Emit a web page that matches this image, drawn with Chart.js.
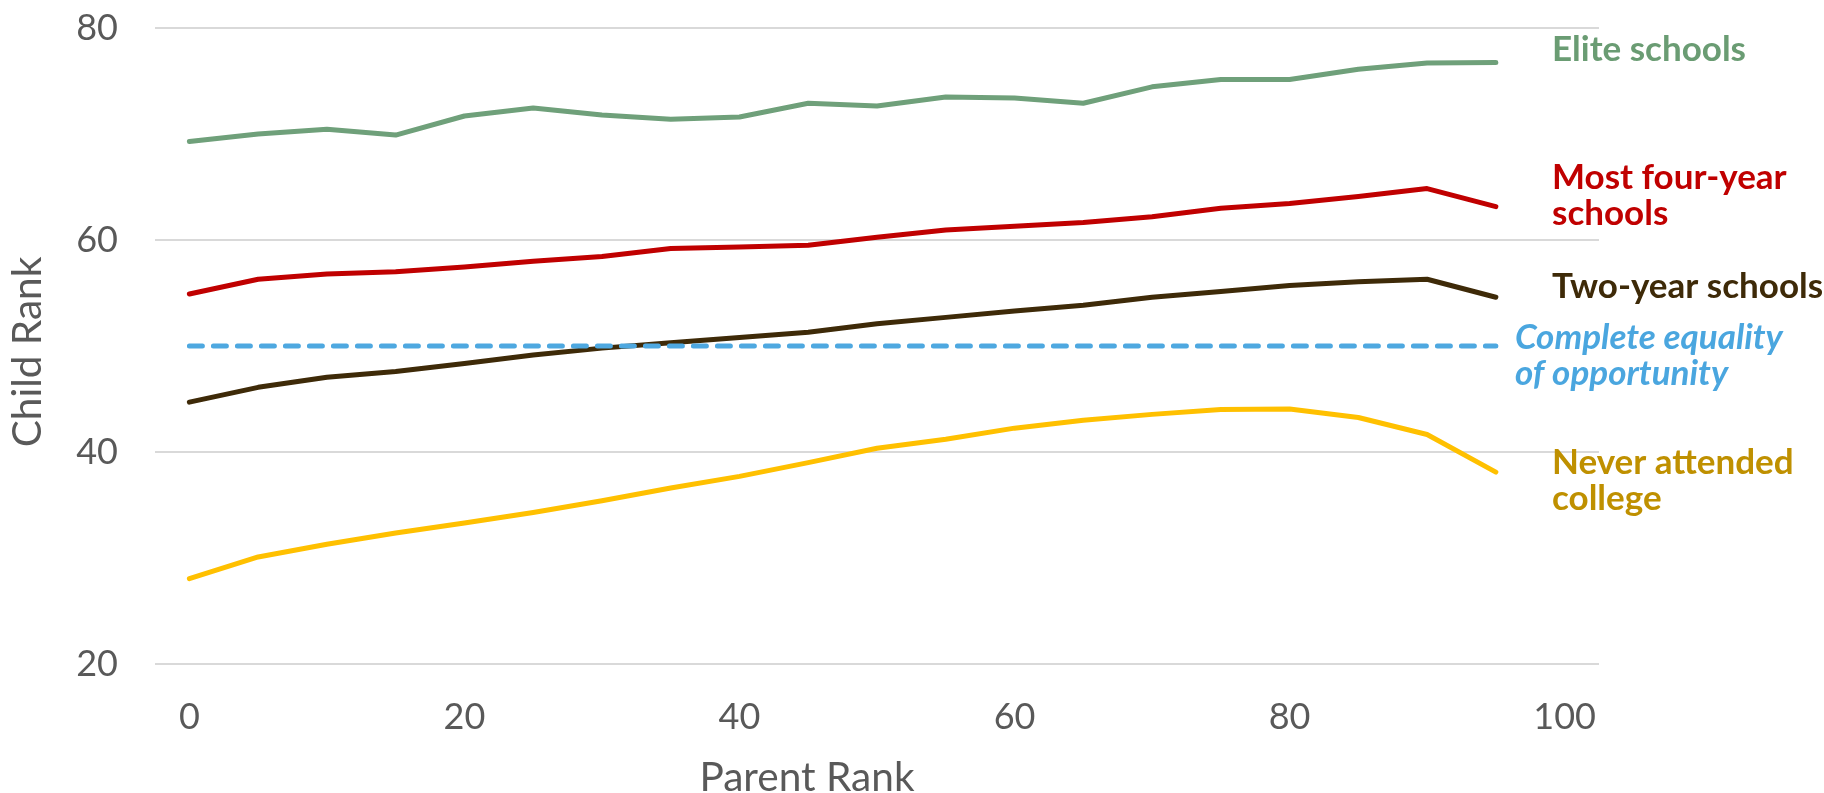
<!DOCTYPE html>
<html>
<head>
<meta charset="utf-8">
<script src="https://cdn.jsdelivr.net/npm/chart.js@4/dist/chart.umd.min.js"></script>
<style>
  html, body { margin: 0; padding: 0; background: #ffffff; }
  #wrap { position: relative; width: 1824px; height: 793px; }
</style>
</head>
<body>
<div id="wrap"><canvas id="chart"></canvas></div>
<script>
// Parent income rank (percentile bins) on the x axis
const parentRank = [0, 5, 10, 15, 20, 25, 30, 35, 40, 45, 50, 55, 60, 65, 70, 75, 80, 85, 90, 95, 100];

// Mean child income rank by college tier
const eliteSchools = [69.3, 70.0, 70.45, 69.9, 71.7, 72.45, 71.8, 71.4, 71.6, 72.9, 72.65, 73.5, 73.4, 72.9, 74.45, 75.15, 75.15, 76.1, 76.7, 76.75];
const fourYearSchools = [54.9, 56.3, 56.8, 57.0, 57.45, 58.0, 58.45, 59.2, 59.35, 59.5, 60.25, 60.95, 61.3, 61.65, 62.2, 63.0, 63.45, 64.1, 64.85, 63.15];
const twoYearSchools = [44.7, 46.1, 47.05, 47.6, 48.35, 49.15, 49.8, 50.3, 50.8, 51.3, 52.1, 52.7, 53.3, 53.85, 54.6, 55.15, 55.7, 56.05, 56.3, 54.6];
const neverAttended = [28.05, 30.1, 31.3, 32.35, 33.3, 34.3, 35.4, 36.6, 37.7, 39.0, 40.35, 41.2, 42.25, 43.0, 43.55, 44.0, 44.05, 43.25, 41.65, 38.1];
const completeEquality = [50, 50, 50, 50, 50, 50, 50, 50, 50, 50, 50, 50, 50, 50, 50, 50, 50, 50, 50, 50];

// Axis ticks
const yTicks = [20, 40, 60, 80];
const xTickLabels = [0, 20, 40, 60, 80, 100];

const GREEN = '#6FA07A', RED = '#C00000', BROWN = '#3E2A08', BLUE = '#4EA8E0', GOLD = '#FFC000';
const AXIS_GREY = '#595959';
const FONT = 'Lato, "Open Sans", sans-serif';

// Series name labels placed to the right of the line ends
const seriesLabels = [
  { lines: ['Elite schools'], y: 77.92, color: '#6A9C73', dx: -47 },
  { lines: ['Most four-year', 'schools'], y: 65.85, color: RED, dx: -47 },
  { lines: ['Two-year schools'], y: 55.57, color: BROWN, dx: -47 },
  { lines: ['Complete equality', 'of opportunity'], y: 50.75, color: '#4AA6DF', dx: -84, italic: true },
  { lines: ['Never attended', 'college'], y: 38.96, color: '#BF9000', dx: -47 }
];

// Font size that makes `text` span `width` pixels in the given style
function fittedSize(ctx, style, text, width) {
  ctx.font = style + ' 100px ' + FONT;
  return 100 * width / ctx.measureText(text).width;
}

const labelPlugin = {
  id: 'sideLabels',
  afterDraw(chart) {
    const { ctx, chartArea, scales } = chart;
    ctx.save();
    ctx.textBaseline = 'middle';
    ctx.textAlign = 'left';
    const boldSize = fittedSize(ctx, 'bold', 'Never attended', 242);
    seriesLabels.forEach(lbl => {
      ctx.font = (lbl.italic ? 'italic ' : '') + 'bold ' + boldSize.toFixed(1) + 'px ' + FONT;
      ctx.fillStyle = lbl.color;
      const y0 = scales.y.getPixelForValue(lbl.y);
      lbl.lines.forEach((t, i) => ctx.fillText(t, chartArea.right + lbl.dx, y0 + i * 36));
    });
    // Axis titles
    ctx.fillStyle = AXIS_GREY;
    ctx.textAlign = 'center';
    const titleSize = fittedSize(ctx, 'normal', 'Parent Rank', 215);
    ctx.font = titleSize.toFixed(1) + 'px ' + FONT;
    ctx.fillText('Parent Rank', 807, 778);
    ctx.translate(28, (chartArea.top + chartArea.bottom) / 2 + 6);
    ctx.rotate(-Math.PI / 2);
    ctx.fillText('Child Rank', 0, 0);
    ctx.restore();
  }
};

function lineSet(label, data, color, dashed) {
  return {
    label, data,
    borderColor: color,
    backgroundColor: color,
    borderWidth: 5,
    pointRadius: 0,
    tension: 0,
    fill: false,
    borderCapStyle: 'round',
    borderJoinStyle: 'round',
    borderDash: dashed ? [13, 11] : []
  };
}

new Chart(document.getElementById('chart'), {
  type: 'line',
  data: {
    labels: parentRank,
    datasets: [
      lineSet('Complete equality of opportunity', completeEquality, BLUE, true),
      lineSet('Never attended college', neverAttended, GOLD),
      lineSet('Two-year schools', twoYearSchools, BROWN),
      lineSet('Most four-year schools', fourYearSchools, RED),
      lineSet('Elite schools', eliteSchools, GREEN)
    ]
  },
  options: {
    responsive: true,
    maintainAspectRatio: false,
    animation: false,
    layout: { padding: { top: 28, right: 225, bottom: 0, left: 0 } },
    plugins: { legend: { display: false }, tooltip: { enabled: false } },
    scales: {
      x: {
        type: 'category',
        offset: true,
        grid: { display: false },
        border: { display: false },
        afterFit(s) { s.height = 129; },
        ticks: {
          autoSkip: false,
          maxRotation: 0,
          padding: 24,
          color: AXIS_GREY,
          font: { family: FONT, size: 36 },
          callback(v, i) {
            const lab = parentRank[i];
            return xTickLabels.includes(lab) ? String(lab) : '';
          }
        }
      },
      y: {
        min: 20,
        max: 80,
        afterFit(s) { s.width = 155; s.paddingTop = 0; s.paddingBottom = 0; },
        afterBuildTicks(s) { s.ticks = yTicks.map(v => ({ value: v })); },
        grid: { color: '#D9D9D9', lineWidth: 2, drawTicks: false },
        border: { display: false },
        ticks: {
          padding: 37,
          color: AXIS_GREY,
          font: { family: FONT, size: 36 }
        }
      }
    }
  },
  plugins: [labelPlugin]
});
</script>
</body>
</html>
